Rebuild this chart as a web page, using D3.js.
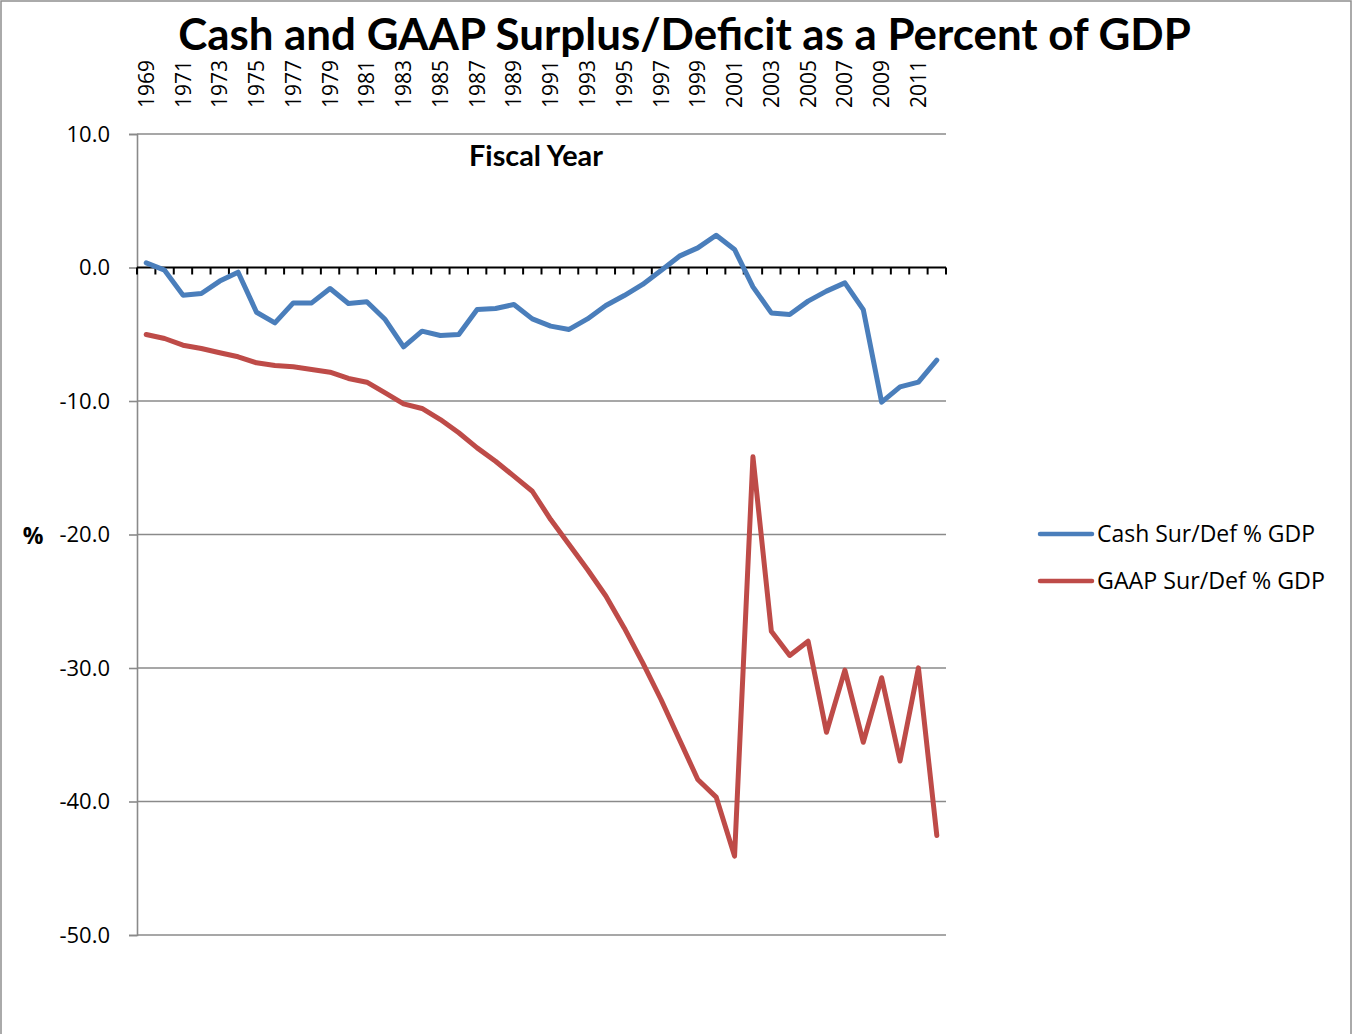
<!DOCTYPE html>
<html>
<head>
<meta charset="utf-8">
<script src="https://cdn.jsdelivr.net/npm/d3@7"></script>
<style>
  html, body { margin: 0; padding: 0; background: #fff; }
  svg { display: block; }
</style>
</head>
<body>
<svg id="chart" width="1353" height="1034"></svg>
<script>
// Fiscal years 1969–2012
const years = d3.range(1969, 2013).map(String);

// Cash surplus / deficit as % of GDP
const cashValues = [
  0.35, -0.2, -2.07, -1.95, -1.02, -0.35, -3.35, -4.15, -2.65, -2.65,
  -1.57, -2.7, -2.57, -3.9, -5.94, -4.77, -5.09, -5.02, -3.15, -3.07,
  -2.77, -3.85, -4.39, -4.64, -3.85, -2.85, -2.1, -1.27, -0.22, 0.85,
  1.47, 2.42, 1.35, -1.45, -3.4, -3.52, -2.52, -1.77, -1.15, -3.15,
  -10.09, -8.94, -8.59, -6.94
];

// GAAP surplus / deficit as % of GDP
const gaapValues = [
  -5.02, -5.32, -5.82, -6.07, -6.39, -6.69, -7.14, -7.34, -7.44, -7.64,
  -7.84, -8.31, -8.59, -9.39, -10.21, -10.56, -11.39, -12.38, -13.51, -14.51,
  -15.63, -16.76, -18.88, -20.75, -22.62, -24.61, -27.0, -29.6, -32.36, -35.36,
  -38.35, -39.67, -44.09, -14.18, -27.24, -29.06, -27.99, -34.81, -30.16, -35.56,
  -30.73, -36.97, -29.99, -42.55
];

const yTicks = [10, 0, -10, -20, -30, -40, -50];
const seriesNames = ["Cash Sur/Def % GDP", "GAAP Sur/Def % GDP"];
const seriesColors = ["#4A7EBB", "#BE4B48"];

const svg = d3.select("#chart");
const W = 1353, H = 1034;

// outer frame
svg.append("rect")
  .attr("x", 1).attr("y", 1).attr("width", W - 3).attr("height", H + 10)
  .attr("fill", "#fff").attr("stroke", "#8e8e8e").attr("stroke-width", 1.5);

const plot = { left: 137, right: 946, top: 134, bottom: 935 };

const x = d3.scaleBand().domain(years).range([plot.left, plot.right]).padding(0);
const y = d3.scaleLinear().domain([-50, 10]).range([plot.bottom, plot.top]);
const xc = d => x(d) + x.bandwidth() / 2;

// horizontal gridlines
svg.append("g")
  .selectAll("line")
  .data(yTicks.filter(v => v !== 0))
  .join("line")
  .attr("x1", plot.left).attr("x2", plot.right)
  .attr("y1", d => y(d)).attr("y2", d => y(d))
  .attr("stroke", "#8a8a8a").attr("stroke-width", 1.6);

// value axis on the left (plain hyphen for negatives)
const fmt = d3.format(".1f");
const yAxis = d3.axisLeft(y).tickValues(yTicks).tickSize(8).tickPadding(19)
  .tickFormat(d => fmt(d).replace("\u2212", "-"));
const gy = svg.append("g").attr("transform", `translate(${plot.left},0)`).call(yAxis);
gy.select(".domain").attr("stroke", "#8a8a8a").attr("stroke-width", 1.6);
gy.selectAll(".tick line").attr("stroke", "#8a8a8a").attr("stroke-width", 1.6);
gy.selectAll(".tick text")
  .attr("font-family", "Open Sans, sans-serif")
  .attr("font-size", 22).attr("fill", "#000")
  .attr("dy", "0.34em");

// category axis drawn along zero
const zeroY = y(0);
const gx = svg.append("g");
gx.append("line")
  .attr("x1", plot.left).attr("x2", plot.right)
  .attr("y1", zeroY).attr("y2", zeroY)
  .attr("stroke", "#000").attr("stroke-width", 2);
const boundaries = years.map(d => x(d)).concat([plot.right]);
gx.selectAll("line.tk")
  .data(boundaries)
  .join("line").attr("class", "tk")
  .attr("x1", d => d).attr("x2", d => d)
  .attr("y1", zeroY).attr("y2", zeroY + 7)
  .attr("stroke", "#000").attr("stroke-width", 2);

// year labels, every other year, rotated above the plot
svg.append("g")
  .selectAll("text")
  .data(years.filter((d, i) => i % 2 === 0))
  .join("text")
  .attr("transform", d => `translate(${xc(d)},108) rotate(-90)`)
  .attr("dy", "0.36em")
  .attr("text-anchor", "start")
  .attr("font-family", "Open Sans, sans-serif")
  .attr("font-size", 21)
  .attr("fill", "#000")
  .text(d => d);

// series lines
const line = d3.line().x((d, i) => xc(years[i])).y(d => y(d));
[cashValues, gaapValues].forEach((vals, k) => {
  svg.append("path")
    .datum(vals)
    .attr("d", line)
    .attr("fill", "none")
    .attr("stroke", seriesColors[k])
    .attr("stroke-width", 5)
    .attr("stroke-linejoin", "round")
    .attr("stroke-linecap", "round");
});

// fit a text element to a given width by adjusting its font size
function fitWidth(sel, target) {
  const node = sel.node();
  const fs = parseFloat(sel.attr("font-size"));
  const w = node.getComputedTextLength();
  sel.attr("font-size", (fs * target / w).toFixed(2));
}

// title
const title = svg.append("text")
  .attr("x", 684.5).attr("y", 50)
  .attr("text-anchor", "middle")
  .attr("font-family", "Lato, Open Sans, sans-serif")
  .attr("font-weight", "bold")
  .attr("font-size", 40)
  .attr("fill", "#000")
  .text("Cash and GAAP Surplus/Deficit as a Percent of GDP");
fitWidth(title, 1013);

// axis title inside plot
const xt = svg.append("text")
  .attr("x", 536).attr("y", 166)
  .attr("text-anchor", "middle")
  .attr("font-family", "Lato, Open Sans, sans-serif")
  .attr("font-weight", "bold")
  .attr("font-size", 24)
  .attr("fill", "#000")
  .text("Fiscal Year");
fitWidth(xt, 134);

// value axis title
svg.append("text")
  .attr("x", 33).attr("y", 544)
  .attr("text-anchor", "middle")
  .attr("font-family", "Open Sans, sans-serif")
  .attr("font-weight", "bold")
  .attr("font-size", 23)
  .attr("fill", "#000")
  .text("%");

// legend
const legend = svg.append("g");
const legendY = [534, 581];
seriesNames.forEach((name, k) => {
  legend.append("line")
    .attr("x1", 1040).attr("x2", 1092)
    .attr("y1", legendY[k]).attr("y2", legendY[k])
    .attr("stroke", seriesColors[k]).attr("stroke-width", 4.5)
    .attr("stroke-linecap", "round");
  const t = legend.append("text")
    .attr("x", 1097).attr("y", legendY[k] + 8)
    .attr("font-family", "Open Sans, sans-serif")
    .attr("font-size", 21)
    .attr("fill", "#000")
    .text(name);
  fitWidth(t, k === 0 ? 218 : 228);
});
</script>
</body>
</html>
